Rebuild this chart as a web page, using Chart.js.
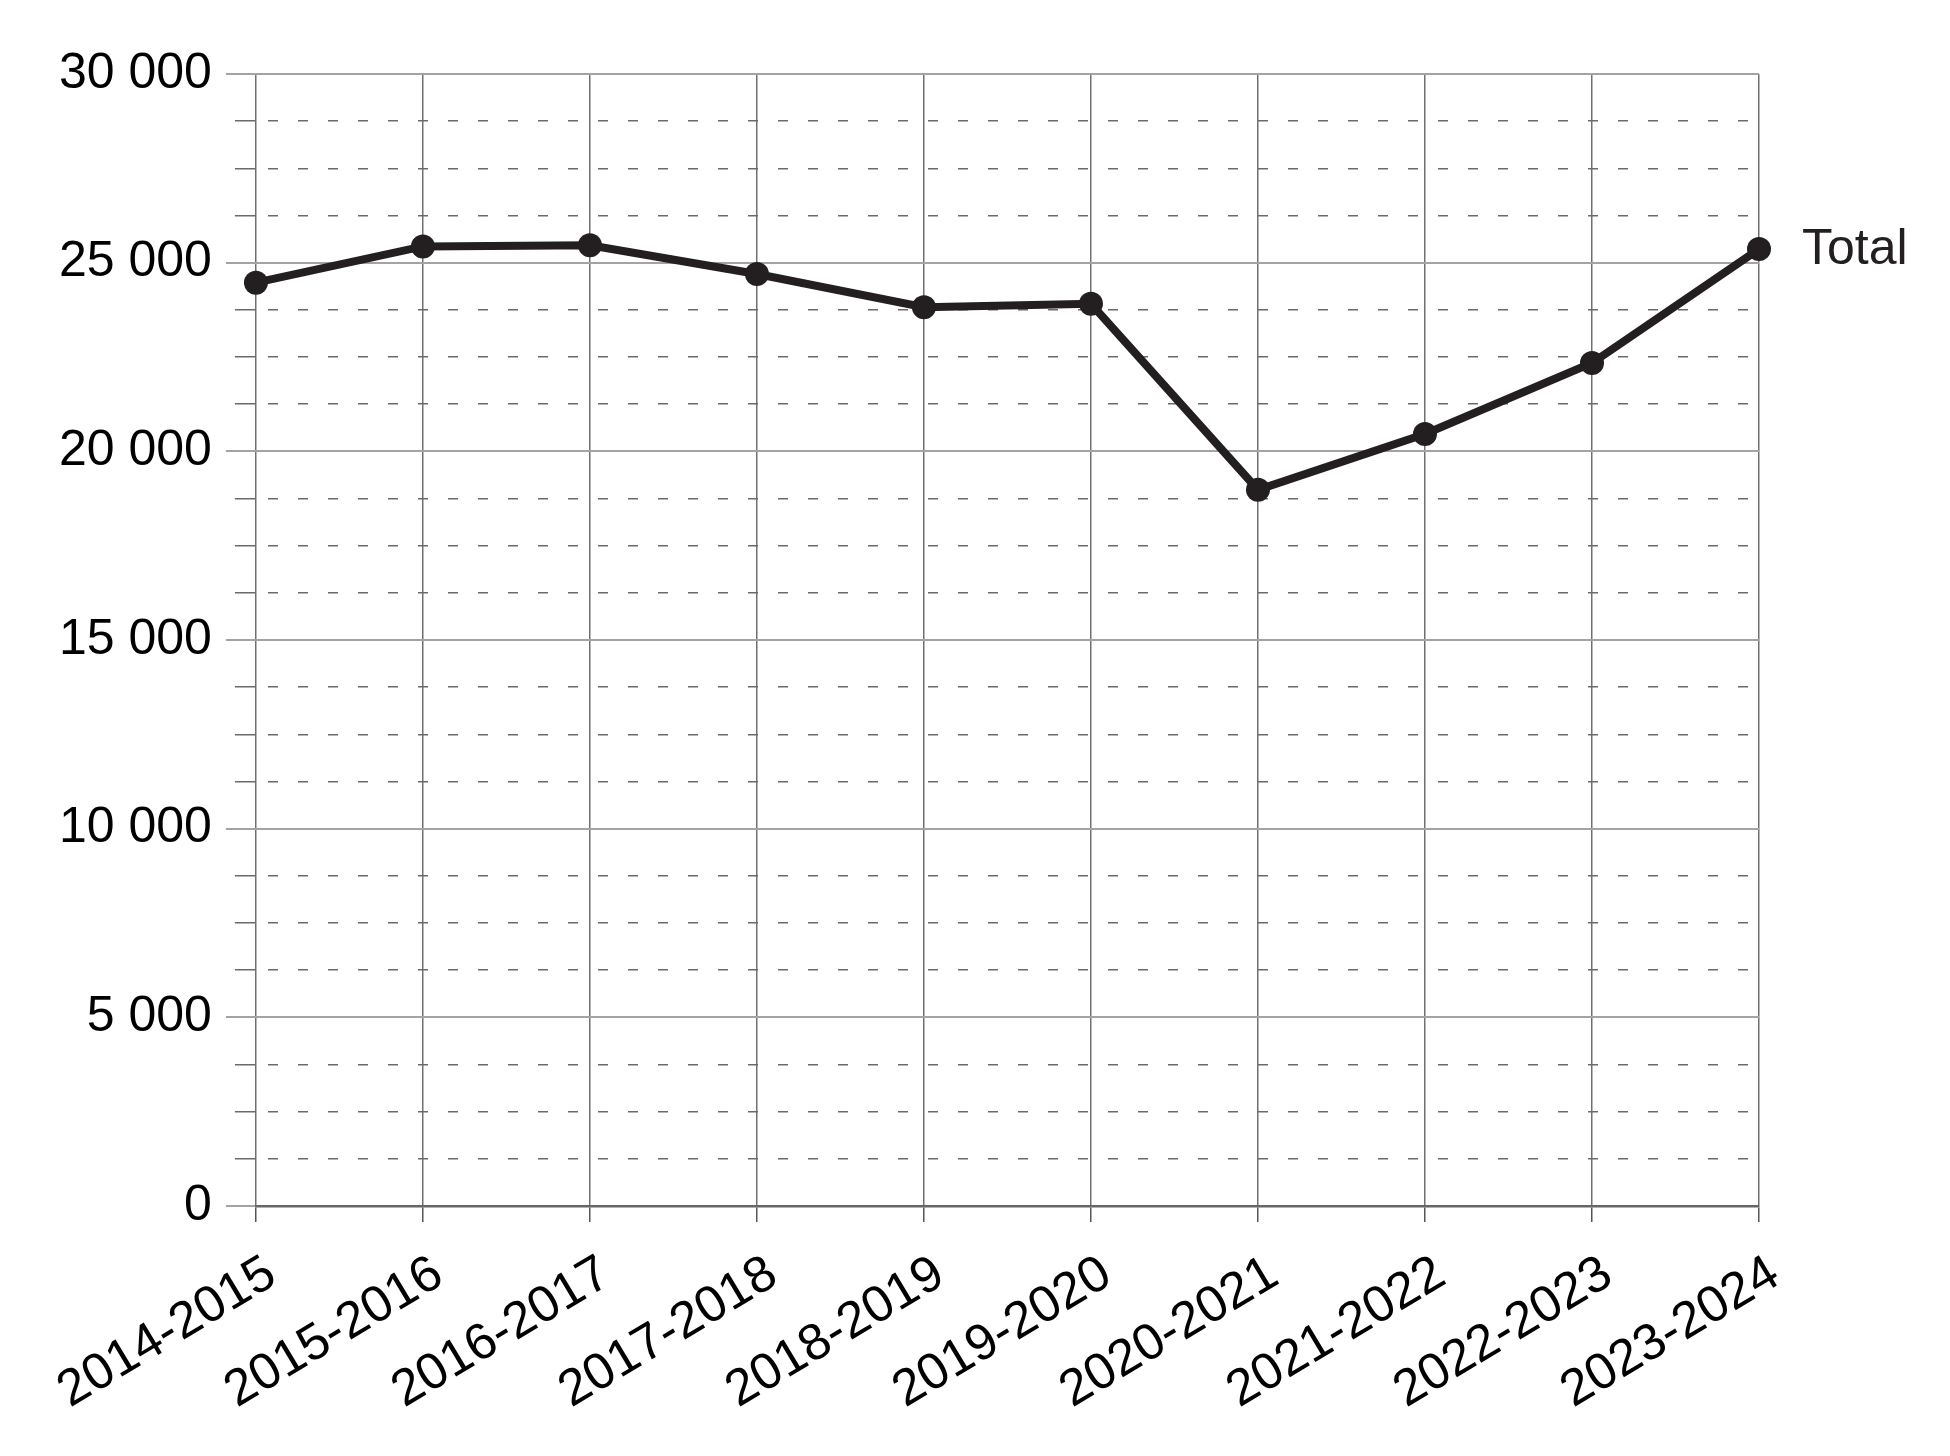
<!DOCTYPE html>
<html>
<head>
<meta charset="utf-8">
<script src="https://cdn.jsdelivr.net/npm/chart.js@4.4.1/dist/chart.umd.min.js"></script>
<style>
  html, body { margin: 0; padding: 0; background: #fff; }
  #wrap { width: 1950px; height: 1456px; }
</style>
</head>
<body>
<div id="wrap"><canvas id="chart" width="1950" height="1456"></canvas></div>
<script>
// data
const periodes = ["2014-2015", "2015-2016", "2016-2017", "2017-2018", "2018-2019",
                  "2019-2020", "2020-2021", "2021-2022", "2022-2023", "2023-2024"]
const totalValeurs = [24470, 25430, 25460, 24700, 23820, 23910, 18980, 20460, 22340, 25360]
const serieNom = "Total"

const yMin = 0
const yMax = 30000
const pasMajeur = 5000
const pasMineur = 1250

const INK = "#231f20"
const FONT = "'Liberation Sans', Arial, sans-serif"

function formatMilliers(v) {
    return String(v).replace(/\B(?=(\d{3})+(?!\d))/g, " ")
}

// label at the end of the line
const etiquetteFin = {
    id: "etiquetteFin",
    afterDatasetsDraw(chart) {
        const meta = chart.getDatasetMeta(0)
        const pt = meta.data[meta.data.length - 1]
        if (!pt) return
        const ctx = chart.ctx
        ctx.save()
        ctx.font = "50px " + FONT
        ctx.fillStyle = INK
        ctx.textAlign = "left"
        ctx.textBaseline = "middle"
        ctx.fillText(chart.data.datasets[0].label, pt.x + 43, pt.y + 1)
        ctx.restore()
    }
}

new Chart(document.getElementById("chart"), {
    type: "line",
    data: {
        labels: periodes,
        datasets: [{
            label: serieNom,
            data: totalValeurs,
            borderColor: INK,
            backgroundColor: INK,
            borderWidth: 8,
            pointRadius: 12,
            pointBorderWidth: 0,
            pointBackgroundColor: INK,
            tension: 0
        }]
    },
    options: {
        responsive: false,
        devicePixelRatio: 1,
        animation: false,
        layout: { padding: { top: 74, right: 191, bottom: 12, left: 45 } },
        plugins: {
            legend: { display: false },
            tooltip: { enabled: false }
        },
        scales: {
            x: {
                offset: false,
                grid: {
                    color: "#707070",
                    lineWidth: 1.5,
                    tickLength: 16,
                    tickColor: "#555"
                },
                border: { display: true, color: "#666", width: 2.5 },
                ticks: {
                    color: "#000",
                    font: { family: FONT, size: 51 },
                    minRotation: 31,
                    maxRotation: 31,
                    padding: 22,
                    labelOffset: 16,
                    autoSkip: false
                }
            },
            y: {
                weight: 10,
                min: yMin,
                max: yMax,
                grid: {
                    color: "#a3a3a3",
                    lineWidth: 2,
                    tickLength: 30,
                    tickColor: "#a3a3a3"
                },
                border: { display: false },
                ticks: {
                    stepSize: pasMajeur,
                    color: "#000",
                    font: { family: FONT, size: 50 },
                    padding: 14,
                    callback: v => formatMilliers(v)
                }
            },
            yMineur: {
                position: "left",
                weight: 0,
                min: yMin,
                max: yMax,
                afterFit(scale) { scale.width = 0 },
                grid: {
                    color: c => (c.tick && c.tick.value % pasMajeur === 0) ? "rgba(0,0,0,0)" : "#6a6a6a",
                    lineWidth: 1.5,
                    tickLength: 21,
                    tickColor: c => (c.tick && c.tick.value % pasMajeur === 0) ? "rgba(0,0,0,0)" : "#6a6a6a"
                },
                border: { display: false, dash: [10, 20], dashOffset: -12 },
                ticks: { display: false, stepSize: pasMineur }
            }
        }
    },
    plugins: [etiquetteFin]
})
</script>
</body>
</html>
